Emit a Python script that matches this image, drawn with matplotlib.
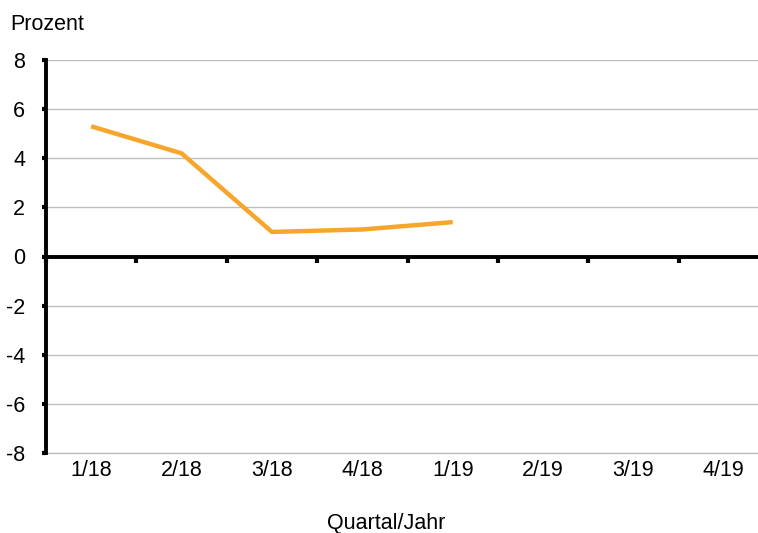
import matplotlib.pyplot as plt

plt.rcParams['font.family'] = ['Liberation Sans', 'DejaVu Sans']

# data
quarters = ['1/18', '2/18', '3/18', '4/18', '1/19', '2/19', '3/19', '4/19']
werte = [5.3, 4.2, 1.0, 1.1, 1.4]
y_ticks = [-8, -6, -4, -2, 0, 2, 4, 6, 8]

fs = 15.5

fig = plt.figure(figsize=(7.58, 5.33), dpi=100)
ax = fig.add_axes([46 / 758, 80 / 533, (769 - 46) / 758, 393 / 533])

centers = [i + 0.5 for i in range(len(quarters))]
ax.plot(centers[:len(werte)], werte, color='#F7A52B', lw=3.2, solid_capstyle='butt', zorder=3)

ax.set_xlim(0, len(quarters))
ax.set_ylim(-8, 8)
ax.set_yticks(y_ticks)
ax.set_yticklabels([str(v) for v in y_ticks], fontsize=fs)
ax.grid(axis='y', color='#BFBFBF', lw=1)
ax.axhline(y_ticks[0], color='#BFBFBF', lw=1, clip_on=False, zorder=0)
ax.set_axisbelow(True)

for s in ['top', 'right']:
    ax.spines[s].set_visible(False)
ax.spines['left'].set_linewidth(2.8)
ax.spines['bottom'].set_position(('data', 0))
ax.spines['bottom'].set_linewidth(2.8)
ax.spines['bottom'].set_zorder(4)

ax.set_xticks(range(len(quarters)))
ax.set_xticklabels([])
ax.tick_params(axis='x', direction='out', length=4, width=3)
ax.tick_params(axis='y', direction='out', length=3, width=3, pad=12)

sec = ax.secondary_xaxis('bottom')
sec.set_xticks(centers)
sec.set_xticklabels(quarters, fontsize=fs)
sec.tick_params(length=0, pad=5)
sec.spines['bottom'].set_visible(False)

fig.text(10 / 758, 1 - 24 / 533, 'Prozent', fontsize=fs, va='center', ha='left')
fig.text(386 / 758, 1 - 523 / 533, 'Quartal/Jahr', fontsize=fs, va='center', ha='center')

fig.savefig('out.png', dpi=100)
